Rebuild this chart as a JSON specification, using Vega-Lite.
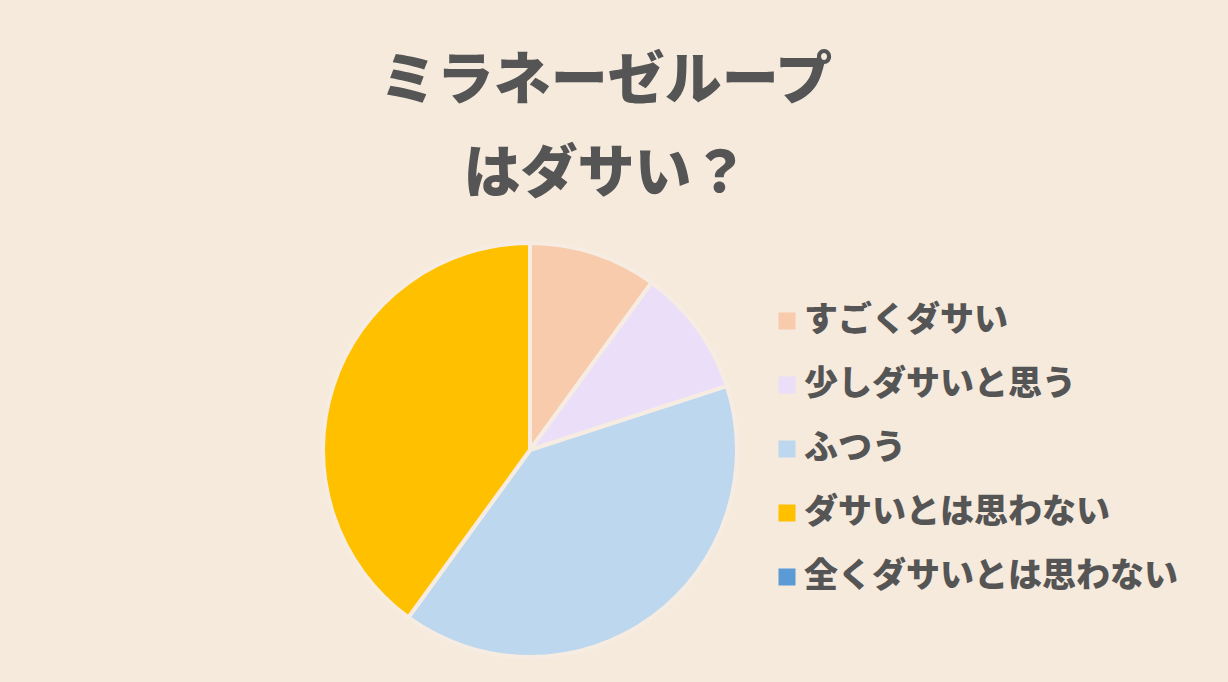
{
  "$schema": "https://vega.github.io/schema/vega-lite/v6.json",
  "description": "ミラネーゼループはダサい？ pie chart",
  "autosize": "none",
  "width": 1060,
  "height": 420,
  "padding": {"left": 0, "top": 240, "right": 168, "bottom": 22},
  "background": "#f6eadd",
  "title": {
    "text": ["ミラネーゼループ", "はダサい？"],
    "font": "Noto Sans CJK JP",
    "fontWeight": 900,
    "fontSize": 57,
    "lineHeight": 93,
    "color": "#555555",
    "anchor": "middle",
    "dx": 76,
    "offset": 31
  },
  "data": {
    "values": [
      {"answer": "すごくダサい", "percent": 10, "order": 1},
      {"answer": "少しダサいと思う", "percent": 10, "order": 2},
      {"answer": "ふつう", "percent": 40, "order": 3},
      {"answer": "ダサいとは思わない", "percent": 40, "order": 4},
      {"answer": "全くダサいとは思わない", "percent": 0, "order": 5}
    ]
  },
  "mark": {"type": "arc", "outerRadius": 207, "stroke": "#f7ece2", "strokeWidth": 4},
  "encoding": {
    "theta": {"field": "percent", "type": "quantitative", "stack": true},
    "order": {"field": "order", "type": "quantitative"},
    "color": {
      "field": "answer",
      "type": "nominal",
      "scale": {
        "domain": ["すごくダサい", "少しダサいと思う", "ふつう", "ダサいとは思わない", "全くダサいとは思わない"],
        "range": ["#f8cbad", "#ebdef8", "#bdd7ee", "#ffc000", "#5b9bd5"]
      },
      "legend": {
        "title": null,
        "orient": "none",
        "legendX": 770,
        "legendY": 64,
        "symbolType": "square",
        "symbolSize": 289,
        "symbolStrokeWidth": 0,
        "symbolOpacity": 1,
        "labelFont": "Noto Sans CJK JP",
        "labelFontWeight": 900,
        "labelFontSize": 34,
        "labelColor": "#555555",
        "labelLimit": 500,
        "labelOffset": 0,
        "rowPadding": 30
      }
    }
  }
}
